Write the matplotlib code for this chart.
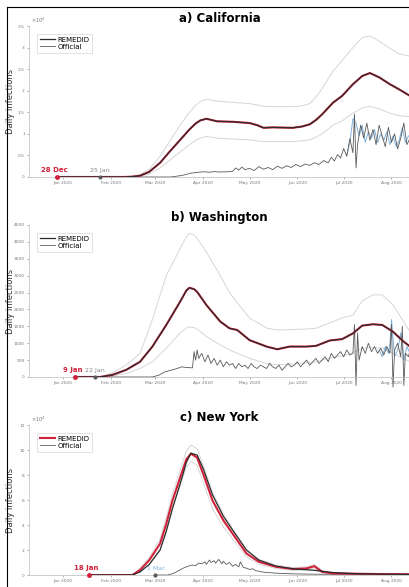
import numpy as np
import matplotlib
matplotlib.use("Agg")
import matplotlib.pyplot as plt
import matplotlib.dates as mdates
from matplotlib.lines import Line2D
from matplotlib.ticker import FuncFormatter

# day offsets are counted from 1 Jan 2020
START = np.datetime64("2020-01-01")

# ---- a) California ----
ca_days = [-4, 40, 45, 50, 56, 63, 69, 76, 82, 86, 89, 93, 100, 110, 121, 126, 130,
           136, 149, 155, 160, 164, 168, 175, 181, 188, 194, 199, 205, 212, 218, 225]
ca_remedid = [0, 0, 80, 300, 1200, 3300, 5800, 8600, 11000, 12400, 13100, 13500,
              12900, 12800, 12500, 12000, 11400, 11500, 11400, 11700, 12200, 13200,
              14500, 17200, 18800, 21500, 23400, 24100, 23100, 21500, 20300, 18800]
ca_upper = [0, 0, 150, 500, 1800, 4800, 8200, 12000, 15000, 16600, 17500, 18000,
            17600, 17300, 17000, 16700, 16400, 16300, 16300, 16500, 17000, 18500,
            20500, 24500, 27000, 30000, 32300, 32700, 31500, 29800, 28500, 28000]
ca_lower = [0, 0, 40, 150, 700, 2100, 3800, 5800, 7500, 8500, 9000, 9400, 9000, 8800,
            8600, 8400, 8200, 8200, 8200, 8400, 8600, 9200, 10000, 12000, 13000, 14800,
            16000, 16400, 15800, 14800, 14200, 14000]
ca_off_days = [24, 70, 74, 77, 80, 83, 86, 89, 92, 95, 98, 101, 104, 107, 110, 112,
               114, 116, 118, 121, 124, 127, 130, 133, 136, 139, 142, 145, 148, 151,
               154, 157, 160, 163, 166, 169, 172, 174, 176, 178, 180, 182, 184, 186,
               188, 189, 190, 191, 193, 195, 197, 199, 201, 203, 205, 207, 209, 211,
               213, 215, 217, 219, 221, 223, 225]
ca_official = [0, 0, 200, 350, 600, 900, 1000, 1150, 1200, 1100, 1250, 1150, 1200,
               1200, 1300, 2100, 1600, 2300, 1700, 2000, 1500, 2400, 1800, 2200, 1700,
               2500, 2000, 2600, 2200, 2900, 2400, 3000, 2700, 3300, 2900, 3800, 3300,
               4600, 3700, 5200, 4400, 6600, 4800, 8900, 5600, 14600, 2100, 7500,
               12000, 9000, 12500, 8500, 11000, 7500, 12000, 9500, 7000, 11500, 8000,
               10000, 6500, 9000, 12500, 7500, 9000]
ca_alt_days = [184, 186, 188, 190, 192, 194, 196, 198, 200, 202, 204, 206, 208, 210,
               212, 214, 216, 218, 220, 222, 224]
ca_alt = [5000, 8000, 13500, 12500, 9500, 12000, 8000, 10500, 9000, 11000, 8000,
          10000, 8500, 10500, 7500, 9500, 7000, 8500, 11500, 8000, 9500]

# ---- b) Washington ----
wa_days = [8, 24, 32, 41, 50, 58, 67, 76, 80, 82, 85, 87, 93, 102, 108, 113, 121, 132,
           139, 147, 158, 164, 173, 181, 188, 194, 201, 207, 214, 220, 225]
wa_remedid = [0, 0, 60, 210, 450, 900, 1540, 2230, 2560, 2640, 2600, 2520, 2130, 1640,
              1440, 1390, 1090, 900, 820, 900, 900, 920, 1080, 1120, 1290, 1520, 1560,
              1540, 1340, 1080, 900]
wa_upper = [0, 0, 120, 350, 700, 1700, 3000, 3800, 4150, 4250, 4200, 4100, 3700,
            3000, 2500, 2200, 1740, 1450, 1390, 1400, 1420, 1440, 1600, 1750, 1830,
            2250, 2430, 2430, 2130, 1700, 1340]
wa_lower = [0, 0, 30, 100, 250, 450, 850, 1300, 1450, 1480, 1460, 1420, 1200, 950, 800,
            700, 550, 400, 360, 380, 420, 450, 560, 620, 720, 850, 870, 860, 700, 560, 450]
wa_off_days = [21, 58, 62, 66, 70, 74, 77, 80, 84, 85, 86, 87, 88, 90, 92, 94, 96, 98,
               100, 102, 104, 106, 108, 110, 112, 114, 116, 118, 120, 122, 124, 126,
               128, 130, 132, 134, 136, 138, 140, 142, 144, 146, 148, 150, 152, 154,
               156, 158, 160, 162, 164, 166, 168, 170, 172, 174, 176, 178, 180, 182,
               184, 186, 188, 189, 190, 191, 192, 194, 196, 198, 200, 202, 204, 206,
               208, 210, 212, 213, 214, 215, 217, 219, 220, 221, 222, 224, 225]
wa_official = [0, 0, 50, 150, 200, 250, 300, 280, 270, 750, 500, 800, 550, 700, 450,
               650, 400, 550, 350, 500, 300, 450, 350, 400, 250, 400, 300, 350, 250,
               400, 300, 250, 350, 300, 250, 400, 300, 250, 350, 200, 300, 400, 300,
               350, 450, 300, 400, 500, 350, 450, 550, 400, 500, 600, 450, 700, 550,
               650, 750, 600, 800, 650, 700, 1550, -250, 1300, 500, 900, 700, 1000,
               750, 900, 700, 850, 650, 900, 700, 1550, -300, 800, 1000, 600, 1500,
               -250, 700, 600, 800]
wa_alt_days = [205, 207, 209, 211, 212, 213, 215, 217, 219, 221, 223, 225]
wa_alt = [800, 600, 900, 700, 1000, 1700, 600, 800, 1300, 500, 900, 700]

# ---- c) New York ----
ny_days = [17, 45, 50, 56, 63, 67, 71, 76, 80, 83, 87, 91, 97, 104, 110, 119, 127,
           138, 149, 158, 163, 168, 175, 190, 225]
ny_remedid = [0, 0, 4000, 11900, 25200, 41000, 59500, 78000, 92600, 97100, 93900,
              80700, 59500, 43700, 33100, 17200, 10600, 6600, 4800, 5300, 7100, 2600,
              1300, 1000, 500]
ny_mean = [0, 0, 2500, 8500, 20000, 35000, 53000, 73000, 90000, 97500, 96000, 85000,
           64000, 47000, 36000, 20000, 12000, 7200, 5000, 4200, 3800, 3000, 2000, 1000, 500]
ny_upper = [0, 0, 5500, 14000, 29000, 46000, 65000, 84000, 99000, 104000, 101000,
            88000, 66000, 49000, 37000, 20000, 12500, 8000, 6000, 6500, 8500, 3500,
            2000, 1500, 800]
ny_lower = [0, 0, 2500, 9000, 21000, 36000, 54000, 72000, 86000, 91000, 88000, 74000,
            53000, 38500, 29000, 14500, 8800, 5200, 3700, 4100, 5800, 1800, 800, 600, 300]
ny_off_days = [60, 68, 72, 75, 78, 81, 84, 86, 88, 90, 92, 93, 95, 96, 98, 99, 101,
               103, 104, 106, 108, 110, 112, 114, 115, 117, 119, 121, 123, 125, 127,
               129, 132, 135, 138, 142, 146, 150, 155, 160, 170, 180, 190, 200, 210, 225]
ny_official = [0, 0, 1500, 3500, 5500, 7000, 8000, 7500, 9500, 9000, 10500, 8500,
               12000, 10000, 11500, 9500, 12500, 9000, 11000, 8500, 10000, 7000, 8500,
               6500, 10500, 6000, 5500, 4500, 5000, 3500, 3000, 2500, 2000, 1800, 1500,
               1200, 1100, 900, 800, 700, 600, 600, 650, 600, 600, 650]

titles = ["a) California", "b) Washington", "c) New York"]
first_model = [-4, 8, 17]
first_official = [24, 21, 60]
model_labels = ["28 Dec", "9 Jan", "18 Jan"]
official_labels = ["25 Jan", "22 Jan", "1 Mar"]
y_tops = [35000, 4500, 120000]
y_steps = [5000, 500, 20000]
y_scale = [1e4, 1, 1e4]

RED = "#d0213a"
DARK = "#2b2b2b"
GREY = "#5a5a5a"
BAND = "#d6d6d6"
BLUE = "#7fb2dd"


def d(days):
    return START + np.array(days, dtype="timedelta64[D]")


fig = plt.figure(figsize=(4.10, 5.87), dpi=100)
fig.patch.set_facecolor("white")
positions = [[0.0707, 0.6985, 0.9293, 0.2572],
             [0.0707, 0.3578, 0.9293, 0.2590],
             [0.0707, 0.0204, 0.9293, 0.2555]]

panels = [
    (ca_days, ca_remedid, None, ca_upper, ca_lower, ca_off_days, ca_official, ca_alt_days, ca_alt),
    (wa_days, wa_remedid, None, wa_upper, wa_lower, wa_off_days, wa_official, wa_alt_days, wa_alt),
    (ny_days, ny_remedid, ny_mean, ny_upper, ny_lower, ny_off_days, ny_official, None, None),
]

for i, (md, rem, mean, up, lo, od, off, ad, alt) in enumerate(panels):
    ax = fig.add_axes(positions[i])
    ax.plot(d(md), up, color=BAND, lw=0.7)
    ax.plot(d(md), lo, color=BAND, lw=0.7)
    if alt is not None:
        ax.plot(d(ad), alt, color=BLUE, lw=0.7, clip_on=False)
    off_line, = ax.plot(d(od), off, color=GREY, lw=0.6, clip_on=False)
    red_line, = ax.plot(d(md), rem, color=RED, lw=1.5)
    if mean is None:
        mean_line, = ax.plot(d(md), rem, color=DARK, lw=0.9)
    else:
        mean_line, = ax.plot(d(md), mean, color=DARK, lw=0.9)

    # first estimated infection and first official case
    ax.plot(d([first_model[i]]), [0], "o", color=RED, ms=2.5, clip_on=False, zorder=5)
    ax.plot(d([first_official[i]]), [0], "o", color=GREY, ms=2.0, clip_on=False, zorder=5)
    ax.annotate(model_labels[i], (d([first_model[i]])[0], 0), xytext=(-2, 3),
                textcoords="offset points", ha="center", va="bottom",
                color=RED, fontsize=5, fontweight="bold")
    ax.annotate(official_labels[i], (d([first_official[i]])[0], 0), xytext=(0, 3),
                textcoords="offset points", ha="center", va="bottom",
                color=BLUE if i == 2 else "#888888", fontsize=4.5)

    ax.set_xlim(np.datetime64("2019-12-10"), np.datetime64("2020-08-13"))
    ax.set_ylim(0, y_tops[i])
    ax.set_yticks(np.arange(0, y_tops[i] + 1, y_steps[i]))
    sc = y_scale[i]
    ax.yaxis.set_major_formatter(FuncFormatter(lambda v, _, sc=sc: f"{v / sc:g}"))
    ax.xaxis.set_major_locator(mdates.MonthLocator())
    ax.xaxis.set_major_formatter(mdates.DateFormatter("%b %Y"))
    ax.tick_params(labelsize=3.2, colors="#777777", length=1.5, width=0.4, pad=1.5)
    for s in ["top", "right"]:
        ax.spines[s].set_visible(False)
    for s in ["left", "bottom"]:
        ax.spines[s].set_color("#bbbbbb")
        ax.spines[s].set_linewidth(0.5)
    if sc != 1:
        ax.text(0.005, 1.005, r"$\times10^4$", transform=ax.transAxes, fontsize=3.5,
                color="#777777", va="bottom", ha="left")
    ax.set_ylabel("Daily infections", fontsize=6, color="#333333")
    ax.yaxis.set_label_coords(-0.038, 0.5)
    ax.set_title(titles[i], fontsize=8.5, fontweight="bold", pad=3)

    first_handle = red_line if i == 2 else mean_line
    leg = ax.legend([first_handle, off_line], ["REMEDID", "Official"], loc="upper left",
                    bbox_to_anchor=(0.012, 0.97), fontsize=5, handlelength=2.2,
                    handletextpad=0.3, borderpad=0.4, labelspacing=0.15,
                    frameon=True, fancybox=False)
    leg.get_frame().set_edgecolor("#cccccc")
    leg.get_frame().set_linewidth(0.5)

# outer frame (left and top edges of the original picture)
fig.add_artist(Line2D([0.017, 0.017], [0.0, 0.988], color="black", lw=0.8))
fig.add_artist(Line2D([0.017, 1.0], [0.988, 0.988], color="black", lw=0.8))

fig.savefig("out.png", dpi=100)
plt.close(fig)
